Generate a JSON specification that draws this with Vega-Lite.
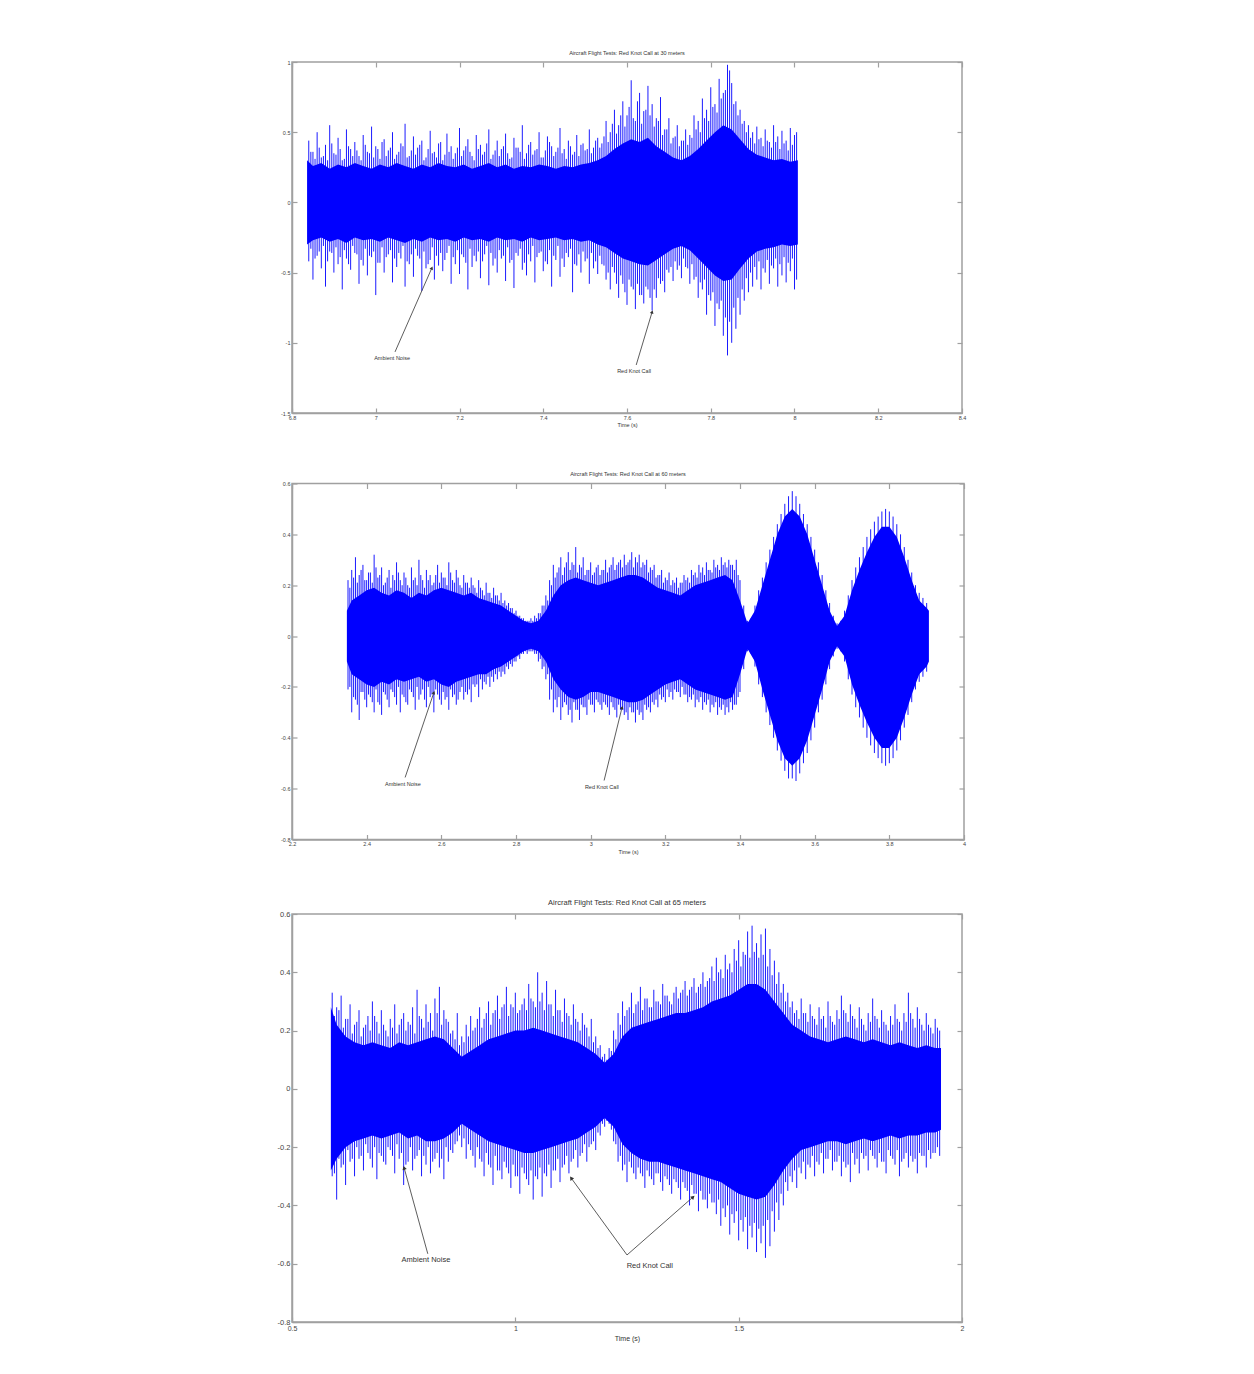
{
"$schema": "https://vega.github.io/schema/vega-lite/v6.json",
"background": "white",
"padding": {"top": 49, "left": 276, "right": 10, "bottom": 10},
"spacing": 41.5,
"config": {
  "font": "Liberation Sans",
  "view": {"stroke": "#a0a0a0", "strokeWidth": 1.5},
  "axis": {"grid": false, "domainColor": "#a0a0a0", "domainWidth": 1.5, "tickColor": "#a0a0a0", "tickWidth": 1.2, "tickSize": -5, "labelPadding": 7, "labelColor": "#444444", "labelFont": "Liberation Sans", "titleFont": "Liberation Sans", "titleFontWeight": "normal", "titleColor": "#333333", "labelFlush": false, "labelOverlap": false, "labelExpr": "datum.value < 0 ? '-' + format(-datum.value, '~g') : format(datum.value, '~g')"},
  "title": {"font": "Liberation Sans", "fontWeight": "normal", "color": "#333333", "offset": 4}
},
"datasets": {
  "c1": [
    {"t":6.836,"h":0.30,"l":-0.30},{"t":6.85,"h":0.26,"l":-0.27},{"t":6.87,"h":0.28,"l":-0.25},{"t":6.89,"h":0.24,"l":-0.28},{"t":6.91,"h":0.27,"l":-0.26},{"t":6.93,"h":0.25,"l":-0.29},{"t":6.95,"h":0.28,"l":-0.25},{"t":6.97,"h":0.26,"l":-0.27},{"t":6.99,"h":0.24,"l":-0.26},{"t":7.01,"h":0.27,"l":-0.28},{"t":7.03,"h":0.25,"l":-0.25},{"t":7.05,"h":0.28,"l":-0.27},{"t":7.07,"h":0.26,"l":-0.29},{"t":7.09,"h":0.24,"l":-0.26},{"t":7.11,"h":0.27,"l":-0.28},{"t":7.13,"h":0.25,"l":-0.25},{"t":7.15,"h":0.28,"l":-0.27},{"t":7.17,"h":0.26,"l":-0.26},{"t":7.19,"h":0.25,"l":-0.28},{"t":7.21,"h":0.27,"l":-0.25},{"t":7.23,"h":0.24,"l":-0.27},{"t":7.25,"h":0.26,"l":-0.26},{"t":7.27,"h":0.28,"l":-0.28},{"t":7.29,"h":0.25,"l":-0.25},{"t":7.31,"h":0.27,"l":-0.27},{"t":7.33,"h":0.24,"l":-0.26},{"t":7.35,"h":0.26,"l":-0.28},{"t":7.37,"h":0.25,"l":-0.25},{"t":7.39,"h":0.27,"l":-0.27},{"t":7.41,"h":0.26,"l":-0.26},{"t":7.43,"h":0.24,"l":-0.25},{"t":7.45,"h":0.26,"l":-0.27},{"t":7.47,"h":0.25,"l":-0.26},{"t":7.49,"h":0.27,"l":-0.28},{"t":7.51,"h":0.28,"l":-0.27},{"t":7.53,"h":0.30,"l":-0.30},{"t":7.55,"h":0.33,"l":-0.32},{"t":7.57,"h":0.38,"l":-0.36},{"t":7.59,"h":0.42,"l":-0.40},{"t":7.61,"h":0.45,"l":-0.42},{"t":7.63,"h":0.43,"l":-0.44},{"t":7.65,"h":0.46,"l":-0.45},{"t":7.67,"h":0.40,"l":-0.41},{"t":7.69,"h":0.36,"l":-0.37},{"t":7.71,"h":0.32,"l":-0.33},{"t":7.73,"h":0.30,"l":-0.31},{"t":7.75,"h":0.33,"l":-0.34},{"t":7.77,"h":0.38,"l":-0.40},{"t":7.79,"h":0.44,"l":-0.46},{"t":7.81,"h":0.50,"l":-0.52},{"t":7.83,"h":0.55,"l":-0.56},{"t":7.85,"h":0.52,"l":-0.55},{"t":7.87,"h":0.45,"l":-0.47},{"t":7.89,"h":0.38,"l":-0.40},{"t":7.91,"h":0.34,"l":-0.35},{"t":7.93,"h":0.32,"l":-0.33},{"t":7.95,"h":0.30,"l":-0.32},{"t":7.97,"h":0.31,"l":-0.30},{"t":7.99,"h":0.29,"l":-0.31},{"t":8.008,"h":0.30,"l":-0.30}
  ],
  "s1": [
    {"t":6.84,"h":0.44,"l":-0.42},{"t":6.85,"h":0.36,"l":-0.55},{"t":6.86,"h":0.50,"l":-0.38},{"t":6.87,"h":0.32,"l":-0.47},{"t":6.88,"h":0.41,"l":-0.60},{"t":6.89,"h":0.55,"l":-0.35},{"t":6.90,"h":0.35,"l":-0.50},{"t":6.91,"h":0.46,"l":-0.44},{"t":6.92,"h":0.30,"l":-0.62},{"t":6.93,"h":0.52,"l":-0.40},{"t":6.94,"h":0.38,"l":-0.48},{"t":6.95,"h":0.43,"l":-0.36},{"t":6.96,"h":0.33,"l":-0.58},{"t":6.97,"h":0.48,"l":-0.45},{"t":6.98,"h":0.36,"l":-0.52},{"t":6.99,"h":0.54,"l":-0.39},{"t":7.00,"h":0.40,"l":-0.66},{"t":7.01,"h":0.31,"l":-0.43},{"t":7.02,"h":0.45,"l":-0.50},{"t":7.03,"h":0.37,"l":-0.37},{"t":7.04,"h":0.50,"l":-0.57},{"t":7.05,"h":0.34,"l":-0.46},{"t":7.06,"h":0.42,"l":-0.40},{"t":7.07,"h":0.56,"l":-0.60},{"t":7.08,"h":0.33,"l":-0.44},{"t":7.09,"h":0.47,"l":-0.53},{"t":7.10,"h":0.39,"l":-0.38},{"t":7.11,"h":0.44,"l":-0.63},{"t":7.12,"h":0.32,"l":-0.47},{"t":7.13,"h":0.51,"l":-0.41},{"t":7.14,"h":0.36,"l":-0.55},{"t":7.15,"h":0.42,"l":-0.45},{"t":7.16,"h":0.30,"l":-0.49},{"t":7.17,"h":0.49,"l":-0.36},{"t":7.18,"h":0.40,"l":-0.58},{"t":7.19,"h":0.35,"l":-0.44},{"t":7.20,"h":0.53,"l":-0.51},{"t":7.21,"h":0.37,"l":-0.39},{"t":7.22,"h":0.45,"l":-0.62},{"t":7.23,"h":0.33,"l":-0.46},{"t":7.24,"h":0.48,"l":-0.42},{"t":7.25,"h":0.41,"l":-0.54},{"t":7.26,"h":0.36,"l":-0.37},{"t":7.27,"h":0.52,"l":-0.59},{"t":7.28,"h":0.34,"l":-0.45},{"t":7.29,"h":0.44,"l":-0.50},{"t":7.30,"h":0.38,"l":-0.40},{"t":7.31,"h":0.49,"l":-0.56},{"t":7.32,"h":0.31,"l":-0.43},{"t":7.33,"h":0.46,"l":-0.61},{"t":7.34,"h":0.39,"l":-0.38},{"t":7.35,"h":0.55,"l":-0.48},{"t":7.36,"h":0.35,"l":-0.52},{"t":7.37,"h":0.43,"l":-0.42},{"t":7.38,"h":0.37,"l":-0.57},{"t":7.39,"h":0.50,"l":-0.36},{"t":7.40,"h":0.32,"l":-0.49},{"t":7.41,"h":0.47,"l":-0.44},{"t":7.42,"h":0.40,"l":-0.60},{"t":7.43,"h":0.36,"l":-0.41},{"t":7.44,"h":0.53,"l":-0.53},{"t":7.45,"h":0.38,"l":-0.46},{"t":7.46,"h":0.44,"l":-0.39},{"t":7.47,"h":0.34,"l":-0.64},{"t":7.48,"h":0.48,"l":-0.45},{"t":7.49,"h":0.41,"l":-0.50},{"t":7.50,"h":0.37,"l":-0.42},{"t":7.51,"h":0.52,"l":-0.58},{"t":7.52,"h":0.39,"l":-0.47},{"t":7.53,"h":0.46,"l":-0.51},{"t":7.54,"h":0.42,"l":-0.44},{"t":7.55,"h":0.58,"l":-0.55},{"t":7.56,"h":0.50,"l":-0.62},{"t":7.57,"h":0.66,"l":-0.50},{"t":7.58,"h":0.55,"l":-0.68},{"t":7.59,"h":0.72,"l":-0.58},{"t":7.60,"h":0.62,"l":-0.73},{"t":7.61,"h":0.87,"l":-0.60},{"t":7.62,"h":0.58,"l":-0.76},{"t":7.63,"h":0.78,"l":-0.66},{"t":7.64,"h":0.65,"l":-0.72},{"t":7.65,"h":0.83,"l":-0.62},{"t":7.66,"h":0.70,"l":-0.77},{"t":7.67,"h":0.60,"l":-0.68},{"t":7.68,"h":0.75,"l":-0.58},{"t":7.69,"h":0.52,"l":-0.64},{"t":7.70,"h":0.60,"l":-0.50},{"t":7.71,"h":0.46,"l":-0.56},{"t":7.72,"h":0.55,"l":-0.48},{"t":7.73,"h":0.44,"l":-0.54},{"t":7.74,"h":0.52,"l":-0.46},{"t":7.75,"h":0.48,"l":-0.58},{"t":7.76,"h":0.62,"l":-0.55},{"t":7.77,"h":0.58,"l":-0.68},{"t":7.78,"h":0.74,"l":-0.62},{"t":7.79,"h":0.66,"l":-0.80},{"t":7.80,"h":0.82,"l":-0.70},{"t":7.81,"h":0.70,"l":-0.88},{"t":7.82,"h":0.88,"l":-0.76},{"t":7.83,"h":0.78,"l":-0.95},{"t":7.84,"h":0.98,"l":-1.09},{"t":7.845,"h":0.94,"l":-0.85},{"t":7.85,"h":0.85,"l":-1.00},{"t":7.86,"h":0.72,"l":-0.90},{"t":7.87,"h":0.66,"l":-0.80},{"t":7.88,"h":0.58,"l":-0.70},{"t":7.89,"h":0.55,"l":-0.64},{"t":7.90,"h":0.50,"l":-0.60},{"t":7.91,"h":0.54,"l":-0.55},{"t":7.92,"h":0.46,"l":-0.62},{"t":7.93,"h":0.52,"l":-0.50},{"t":7.94,"h":0.43,"l":-0.58},{"t":7.95,"h":0.55,"l":-0.47},{"t":7.96,"h":0.47,"l":-0.60},{"t":7.97,"h":0.51,"l":-0.52},{"t":7.98,"h":0.44,"l":-0.57},{"t":7.99,"h":0.53,"l":-0.49},{"t":8.00,"h":0.48,"l":-0.62},{"t":8.005,"h":0.50,"l":-0.55}
  ],
  "s1b": [
    {"t":6.845,"h":0.36,"l":-0.33},{"t":6.855,"h":0.31,"l":-0.40},{"t":6.865,"h":0.39,"l":-0.35},{"t":6.875,"h":0.33,"l":-0.31},{"t":6.885,"h":0.30,"l":-0.42},{"t":6.895,"h":0.42,"l":-0.36},{"t":6.905,"h":0.34,"l":-0.32},{"t":6.915,"h":0.38,"l":-0.39},{"t":6.925,"h":0.31,"l":-0.34},{"t":6.935,"h":0.40,"l":-0.44},{"t":6.945,"h":0.33,"l":-0.31},{"t":6.955,"h":0.37,"l":-0.37},{"t":6.965,"h":0.30,"l":-0.41},{"t":6.975,"h":0.41,"l":-0.33},{"t":6.985,"h":0.35,"l":-0.38},{"t":6.995,"h":0.32,"l":-0.35},{"t":7.005,"h":0.38,"l":-0.43},{"t":7.015,"h":0.43,"l":-0.32},{"t":7.025,"h":0.33,"l":-0.39},{"t":7.035,"h":0.39,"l":-0.34},{"t":7.045,"h":0.31,"l":-0.40},{"t":7.055,"h":0.36,"l":-0.36},{"t":7.065,"h":0.40,"l":-0.31},{"t":7.075,"h":0.32,"l":-0.42},{"t":7.085,"h":0.37,"l":-0.37},{"t":7.095,"h":0.34,"l":-0.33},{"t":7.105,"h":0.41,"l":-0.40},{"t":7.115,"h":0.30,"l":-0.35},{"t":7.125,"h":0.38,"l":-0.44},{"t":7.135,"h":0.35,"l":-0.32},{"t":7.145,"h":0.32,"l":-0.38},{"t":7.155,"h":0.43,"l":-0.36},{"t":7.165,"h":0.34,"l":-0.41},{"t":7.175,"h":0.36,"l":-0.31},{"t":7.185,"h":0.31,"l":-0.39},{"t":7.195,"h":0.39,"l":-0.34},{"t":7.205,"h":0.33,"l":-0.37},{"t":7.215,"h":0.40,"l":-0.43},{"t":7.225,"h":0.36,"l":-0.33},{"t":7.235,"h":0.30,"l":-0.38},{"t":7.245,"h":0.38,"l":-0.35},{"t":7.255,"h":0.34,"l":-0.42},{"t":7.265,"h":0.42,"l":-0.31},{"t":7.275,"h":0.31,"l":-0.36},{"t":7.285,"h":0.37,"l":-0.40},{"t":7.295,"h":0.33,"l":-0.34},{"t":7.305,"h":0.40,"l":-0.38},{"t":7.315,"h":0.35,"l":-0.32},{"t":7.325,"h":0.32,"l":-0.41},{"t":7.335,"h":0.39,"l":-0.36},{"t":7.345,"h":0.36,"l":-0.33},{"t":7.355,"h":0.31,"l":-0.43},{"t":7.365,"h":0.41,"l":-0.37},{"t":7.375,"h":0.34,"l":-0.31},{"t":7.385,"h":0.38,"l":-0.39},{"t":7.395,"h":0.32,"l":-0.35},{"t":7.405,"h":0.37,"l":-0.42},{"t":7.415,"h":0.43,"l":-0.34},{"t":7.425,"h":0.33,"l":-0.38},{"t":7.435,"h":0.39,"l":-0.31},{"t":7.445,"h":0.35,"l":-0.40},{"t":7.455,"h":0.31,"l":-0.36},{"t":7.465,"h":0.40,"l":-0.33},{"t":7.475,"h":0.36,"l":-0.44},{"t":7.485,"h":0.33,"l":-0.37},{"t":7.495,"h":0.42,"l":-0.35},{"t":7.505,"h":0.38,"l":-0.40},{"t":7.515,"h":0.35,"l":-0.36},{"t":7.525,"h":0.44,"l":-0.42},{"t":7.535,"h":0.39,"l":-0.38},{"t":7.545,"h":0.47,"l":-0.45},{"t":7.555,"h":0.43,"l":-0.50},{"t":7.565,"h":0.56,"l":-0.46},{"t":7.575,"h":0.49,"l":-0.58},{"t":7.585,"h":0.62,"l":-0.52},{"t":7.595,"h":0.54,"l":-0.64},{"t":7.605,"h":0.68,"l":-0.55},{"t":7.615,"h":0.60,"l":-0.62},{"t":7.625,"h":0.72,"l":-0.58},{"t":7.635,"h":0.56,"l":-0.66},{"t":7.645,"h":0.66,"l":-0.60},{"t":7.655,"h":0.62,"l":-0.68},{"t":7.665,"h":0.54,"l":-0.62},{"t":7.675,"h":0.58,"l":-0.54},{"t":7.685,"h":0.48,"l":-0.56},{"t":7.695,"h":0.52,"l":-0.48},{"t":7.705,"h":0.42,"l":-0.46},{"t":7.715,"h":0.47,"l":-0.42},{"t":7.725,"h":0.40,"l":-0.45},{"t":7.735,"h":0.44,"l":-0.40},{"t":7.745,"h":0.41,"l":-0.47},{"t":7.755,"h":0.46,"l":-0.44},{"t":7.765,"h":0.52,"l":-0.53},{"t":7.775,"h":0.50,"l":-0.57},{"t":7.785,"h":0.60,"l":-0.55},{"t":7.795,"h":0.58,"l":-0.66},{"t":7.805,"h":0.68,"l":-0.64},{"t":7.815,"h":0.64,"l":-0.72},{"t":7.825,"h":0.74,"l":-0.70},{"t":7.835,"h":0.80,"l":-0.82},{"t":7.855,"h":0.70,"l":-0.75},{"t":7.865,"h":0.62,"l":-0.68},{"t":7.875,"h":0.56,"l":-0.62},{"t":7.885,"h":0.50,"l":-0.54},{"t":7.895,"h":0.46,"l":-0.50},{"t":7.905,"h":0.42,"l":-0.46},{"t":7.915,"h":0.45,"l":-0.42},{"t":7.925,"h":0.40,"l":-0.47},{"t":7.935,"h":0.44,"l":-0.41},{"t":7.945,"h":0.39,"l":-0.45},{"t":7.955,"h":0.43,"l":-0.40},{"t":7.965,"h":0.38,"l":-0.44},{"t":7.975,"h":0.42,"l":-0.39},{"t":7.985,"h":0.37,"l":-0.43},{"t":7.995,"h":0.41,"l":-0.40}
  ],
  "c2": [
    {"t":2.347,"h":0.10,"l":-0.10},{"t":2.36,"h":0.14,"l":-0.15},{"t":2.38,"h":0.16,"l":-0.17},{"t":2.40,"h":0.18,"l":-0.19},{"t":2.42,"h":0.19,"l":-0.20},{"t":2.44,"h":0.17,"l":-0.18},{"t":2.46,"h":0.16,"l":-0.19},{"t":2.48,"h":0.18,"l":-0.17},{"t":2.50,"h":0.17,"l":-0.18},{"t":2.52,"h":0.15,"l":-0.17},{"t":2.54,"h":0.17,"l":-0.16},{"t":2.56,"h":0.16,"l":-0.18},{"t":2.58,"h":0.18,"l":-0.17},{"t":2.60,"h":0.19,"l":-0.19},{"t":2.62,"h":0.18,"l":-0.20},{"t":2.64,"h":0.17,"l":-0.18},{"t":2.66,"h":0.16,"l":-0.17},{"t":2.68,"h":0.17,"l":-0.16},{"t":2.70,"h":0.15,"l":-0.15},{"t":2.72,"h":0.14,"l":-0.15},{"t":2.74,"h":0.13,"l":-0.13},{"t":2.76,"h":0.12,"l":-0.12},{"t":2.78,"h":0.10,"l":-0.10},{"t":2.80,"h":0.08,"l":-0.08},{"t":2.82,"h":0.06,"l":-0.06},{"t":2.84,"h":0.05,"l":-0.05},{"t":2.86,"h":0.06,"l":-0.06},{"t":2.88,"h":0.10,"l":-0.10},{"t":2.90,"h":0.16,"l":-0.17},{"t":2.92,"h":0.20,"l":-0.21},{"t":2.94,"h":0.22,"l":-0.24},{"t":2.96,"h":0.23,"l":-0.25},{"t":2.98,"h":0.22,"l":-0.24},{"t":3.00,"h":0.21,"l":-0.22},{"t":3.02,"h":0.20,"l":-0.22},{"t":3.04,"h":0.21,"l":-0.23},{"t":3.06,"h":0.22,"l":-0.24},{"t":3.08,"h":0.23,"l":-0.25},{"t":3.10,"h":0.24,"l":-0.26},{"t":3.12,"h":0.24,"l":-0.26},{"t":3.14,"h":0.23,"l":-0.25},{"t":3.16,"h":0.21,"l":-0.23},{"t":3.18,"h":0.19,"l":-0.21},{"t":3.20,"h":0.18,"l":-0.19},{"t":3.22,"h":0.17,"l":-0.18},{"t":3.24,"h":0.16,"l":-0.17},{"t":3.26,"h":0.18,"l":-0.19},{"t":3.28,"h":0.20,"l":-0.21},{"t":3.30,"h":0.21,"l":-0.22},{"t":3.32,"h":0.22,"l":-0.23},{"t":3.34,"h":0.23,"l":-0.24},{"t":3.36,"h":0.24,"l":-0.25},{"t":3.38,"h":0.22,"l":-0.24},{"t":3.40,"h":0.14,"l":-0.15},{"t":3.42,"h":0.05,"l":-0.05},{"t":3.44,"h":0.10,"l":-0.10},{"t":3.46,"h":0.20,"l":-0.21},{"t":3.48,"h":0.30,"l":-0.31},{"t":3.50,"h":0.40,"l":-0.41},{"t":3.52,"h":0.47,"l":-0.48},{"t":3.54,"h":0.50,"l":-0.51},{"t":3.56,"h":0.47,"l":-0.48},{"t":3.58,"h":0.40,"l":-0.41},{"t":3.60,"h":0.30,"l":-0.31},{"t":3.62,"h":0.20,"l":-0.21},{"t":3.64,"h":0.10,"l":-0.10},{"t":3.66,"h":0.04,"l":-0.04},{"t":3.68,"h":0.08,"l":-0.08},{"t":3.70,"h":0.18,"l":-0.19},{"t":3.72,"h":0.26,"l":-0.27},{"t":3.74,"h":0.33,"l":-0.34},{"t":3.76,"h":0.39,"l":-0.40},{"t":3.78,"h":0.43,"l":-0.44},{"t":3.80,"h":0.43,"l":-0.44},{"t":3.82,"h":0.39,"l":-0.40},{"t":3.84,"h":0.31,"l":-0.32},{"t":3.86,"h":0.22,"l":-0.23},{"t":3.88,"h":0.14,"l":-0.15},{"t":3.90,"h":0.11,"l":-0.12},{"t":3.906,"h":0.10,"l":-0.10}
  ],
  "s2": [
    {"t":2.35,"h":0.22,"l":-0.21},{"t":2.36,"h":0.26,"l":-0.30},{"t":2.37,"h":0.31,"l":-0.25},{"t":2.38,"h":0.24,"l":-0.33},{"t":2.39,"h":0.28,"l":-0.22},{"t":2.40,"h":0.22,"l":-0.28},{"t":2.41,"h":0.25,"l":-0.24},{"t":2.42,"h":0.32,"l":-0.30},{"t":2.43,"h":0.23,"l":-0.26},{"t":2.44,"h":0.27,"l":-0.31},{"t":2.45,"h":0.21,"l":-0.23},{"t":2.46,"h":0.26,"l":-0.28},{"t":2.47,"h":0.24,"l":-0.22},{"t":2.48,"h":0.29,"l":-0.27},{"t":2.49,"h":0.22,"l":-0.30},{"t":2.50,"h":0.25,"l":-0.24},{"t":2.51,"h":0.20,"l":-0.27},{"t":2.52,"h":0.27,"l":-0.22},{"t":2.53,"h":0.23,"l":-0.29},{"t":2.54,"h":0.30,"l":-0.25},{"t":2.55,"h":0.22,"l":-0.21},{"t":2.56,"h":0.26,"l":-0.28},{"t":2.57,"h":0.24,"l":-0.24},{"t":2.58,"h":0.21,"l":-0.30},{"t":2.59,"h":0.28,"l":-0.23},{"t":2.60,"h":0.25,"l":-0.27},{"t":2.61,"h":0.23,"l":-0.25},{"t":2.62,"h":0.29,"l":-0.29},{"t":2.63,"h":0.22,"l":-0.24},{"t":2.64,"h":0.26,"l":-0.27},{"t":2.65,"h":0.20,"l":-0.22},{"t":2.66,"h":0.24,"l":-0.25},{"t":2.67,"h":0.21,"l":-0.23},{"t":2.68,"h":0.23,"l":-0.26},{"t":2.69,"h":0.19,"l":-0.20},{"t":2.70,"h":0.22,"l":-0.24},{"t":2.71,"h":0.18,"l":-0.21},{"t":2.72,"h":0.21,"l":-0.19},{"t":2.73,"h":0.17,"l":-0.20},{"t":2.74,"h":0.19,"l":-0.18},{"t":2.75,"h":0.16,"l":-0.17},{"t":2.76,"h":0.17,"l":-0.16},{"t":2.77,"h":0.14,"l":-0.15},{"t":2.78,"h":0.13,"l":-0.13},{"t":2.79,"h":0.11,"l":-0.12},{"t":2.80,"h":0.10,"l":-0.10},{"t":2.81,"h":0.08,"l":-0.09},{"t":2.82,"h":0.07,"l":-0.07},{"t":2.83,"h":0.06,"l":-0.07},{"t":2.84,"h":0.07,"l":-0.06},{"t":2.85,"h":0.08,"l":-0.07},{"t":2.86,"h":0.09,"l":-0.10},{"t":2.87,"h":0.12,"l":-0.13},{"t":2.88,"h":0.16,"l":-0.17},{"t":2.89,"h":0.22,"l":-0.25},{"t":2.90,"h":0.28,"l":-0.30},{"t":2.91,"h":0.25,"l":-0.28},{"t":2.92,"h":0.31,"l":-0.33},{"t":2.93,"h":0.27,"l":-0.26},{"t":2.94,"h":0.33,"l":-0.31},{"t":2.95,"h":0.29,"l":-0.34},{"t":2.96,"h":0.35,"l":-0.29},{"t":2.97,"h":0.28,"l":-0.33},{"t":2.98,"h":0.31,"l":-0.28},{"t":2.99,"h":0.26,"l":-0.31},{"t":3.00,"h":0.29,"l":-0.27},{"t":3.01,"h":0.25,"l":-0.30},{"t":3.02,"h":0.28,"l":-0.26},{"t":3.03,"h":0.26,"l":-0.29},{"t":3.04,"h":0.30,"l":-0.27},{"t":3.05,"h":0.27,"l":-0.31},{"t":3.06,"h":0.31,"l":-0.28},{"t":3.07,"h":0.28,"l":-0.32},{"t":3.08,"h":0.30,"l":-0.29},{"t":3.09,"h":0.32,"l":-0.31},{"t":3.10,"h":0.29,"l":-0.33},{"t":3.11,"h":0.33,"l":-0.30},{"t":3.12,"h":0.31,"l":-0.34},{"t":3.13,"h":0.32,"l":-0.31},{"t":3.14,"h":0.29,"l":-0.33},{"t":3.15,"h":0.30,"l":-0.29},{"t":3.16,"h":0.27,"l":-0.30},{"t":3.17,"h":0.28,"l":-0.27},{"t":3.18,"h":0.24,"l":-0.28},{"t":3.19,"h":0.26,"l":-0.25},{"t":3.20,"h":0.23,"l":-0.26},{"t":3.21,"h":0.25,"l":-0.24},{"t":3.22,"h":0.22,"l":-0.25},{"t":3.23,"h":0.23,"l":-0.22},{"t":3.24,"h":0.21,"l":-0.24},{"t":3.25,"h":0.24,"l":-0.23},{"t":3.26,"h":0.23,"l":-0.26},{"t":3.27,"h":0.26,"l":-0.25},{"t":3.28,"h":0.25,"l":-0.28},{"t":3.29,"h":0.28,"l":-0.26},{"t":3.30,"h":0.27,"l":-0.29},{"t":3.31,"h":0.29,"l":-0.27},{"t":3.32,"h":0.26,"l":-0.30},{"t":3.33,"h":0.30,"l":-0.28},{"t":3.34,"h":0.28,"l":-0.31},{"t":3.35,"h":0.31,"l":-0.29},{"t":3.36,"h":0.29,"l":-0.31},{"t":3.37,"h":0.30,"l":-0.30},{"t":3.38,"h":0.28,"l":-0.29},{"t":3.39,"h":0.30,"l":-0.27},{"t":3.40,"h":0.22,"l":-0.22},{"t":3.41,"h":0.12,"l":-0.13},{"t":3.42,"h":0.06,"l":-0.06},{"t":3.43,"h":0.07,"l":-0.07},{"t":3.44,"h":0.12,"l":-0.12},{"t":3.45,"h":0.18,"l":-0.19},{"t":3.46,"h":0.23,"l":-0.24},{"t":3.47,"h":0.29,"l":-0.30},{"t":3.48,"h":0.34,"l":-0.35},{"t":3.49,"h":0.39,"l":-0.40},{"t":3.50,"h":0.44,"l":-0.45},{"t":3.51,"h":0.48,"l":-0.49},{"t":3.52,"h":0.52,"l":-0.53},{"t":3.53,"h":0.55,"l":-0.56},{"t":3.54,"h":0.57,"l":-0.56},{"t":3.55,"h":0.55,"l":-0.57},{"t":3.56,"h":0.52,"l":-0.54},{"t":3.57,"h":0.48,"l":-0.50},{"t":3.58,"h":0.44,"l":-0.46},{"t":3.59,"h":0.39,"l":-0.41},{"t":3.60,"h":0.34,"l":-0.36},{"t":3.61,"h":0.29,"l":-0.30},{"t":3.62,"h":0.24,"l":-0.25},{"t":3.63,"h":0.18,"l":-0.19},{"t":3.64,"h":0.13,"l":-0.13},{"t":3.65,"h":0.08,"l":-0.08},{"t":3.66,"h":0.05,"l":-0.05},{"t":3.67,"h":0.06,"l":-0.06},{"t":3.68,"h":0.10,"l":-0.10},{"t":3.69,"h":0.16,"l":-0.17},{"t":3.70,"h":0.22,"l":-0.23},{"t":3.71,"h":0.27,"l":-0.28},{"t":3.72,"h":0.31,"l":-0.32},{"t":3.73,"h":0.35,"l":-0.36},{"t":3.74,"h":0.39,"l":-0.40},{"t":3.75,"h":0.42,"l":-0.43},{"t":3.76,"h":0.45,"l":-0.46},{"t":3.77,"h":0.47,"l":-0.48},{"t":3.78,"h":0.49,"l":-0.50},{"t":3.79,"h":0.50,"l":-0.51},{"t":3.80,"h":0.49,"l":-0.50},{"t":3.81,"h":0.47,"l":-0.48},{"t":3.82,"h":0.44,"l":-0.45},{"t":3.83,"h":0.40,"l":-0.41},{"t":3.84,"h":0.35,"l":-0.36},{"t":3.85,"h":0.30,"l":-0.31},{"t":3.86,"h":0.25,"l":-0.26},{"t":3.87,"h":0.20,"l":-0.21},{"t":3.88,"h":0.17,"l":-0.18},{"t":3.89,"h":0.15,"l":-0.16},{"t":3.90,"h":0.13,"l":-0.14}
  ],
  "s2b": [
    {"t":2.355,"h":0.19,"l":-0.20},{"t":2.365,"h":0.23,"l":-0.24},{"t":2.375,"h":0.21,"l":-0.27},{"t":2.385,"h":0.26,"l":-0.22},{"t":2.395,"h":0.22,"l":-0.25},{"t":2.405,"h":0.25,"l":-0.23},{"t":2.415,"h":0.21,"l":-0.26},{"t":2.425,"h":0.27,"l":-0.21},{"t":2.435,"h":0.24,"l":-0.27},{"t":2.445,"h":0.20,"l":-0.22},{"t":2.455,"h":0.23,"l":-0.25},{"t":2.465,"h":0.19,"l":-0.21},{"t":2.475,"h":0.22,"l":-0.24},{"t":2.485,"h":0.25,"l":-0.20},{"t":2.495,"h":0.20,"l":-0.23},{"t":2.505,"h":0.23,"l":-0.26},{"t":2.515,"h":0.19,"l":-0.21},{"t":2.525,"h":0.22,"l":-0.24},{"t":2.535,"h":0.20,"l":-0.20},{"t":2.545,"h":0.24,"l":-0.23},{"t":2.555,"h":0.19,"l":-0.25},{"t":2.565,"h":0.22,"l":-0.20},{"t":2.575,"h":0.20,"l":-0.23},{"t":2.585,"h":0.24,"l":-0.21},{"t":2.595,"h":0.21,"l":-0.25},{"t":2.605,"h":0.23,"l":-0.22},{"t":2.615,"h":0.20,"l":-0.24},{"t":2.625,"h":0.25,"l":-0.21},{"t":2.635,"h":0.21,"l":-0.23},{"t":2.645,"h":0.23,"l":-0.25},{"t":2.655,"h":0.19,"l":-0.20},{"t":2.665,"h":0.21,"l":-0.22},{"t":2.675,"h":0.19,"l":-0.21},{"t":2.685,"h":0.20,"l":-0.19},{"t":2.695,"h":0.17,"l":-0.19},{"t":2.705,"h":0.19,"l":-0.17},{"t":2.715,"h":0.16,"l":-0.18},{"t":2.725,"h":0.17,"l":-0.16},{"t":2.735,"h":0.15,"l":-0.16},{"t":2.745,"h":0.16,"l":-0.15},{"t":2.755,"h":0.14,"l":-0.14},{"t":2.765,"h":0.13,"l":-0.14},{"t":2.775,"h":0.12,"l":-0.12},{"t":2.785,"h":0.11,"l":-0.11},{"t":2.795,"h":0.09,"l":-0.10},{"t":2.805,"h":0.08,"l":-0.08},{"t":2.815,"h":0.07,"l":-0.07},{"t":2.825,"h":0.06,"l":-0.06},{"t":2.835,"h":0.06,"l":-0.06},{"t":2.845,"h":0.06,"l":-0.06},{"t":2.855,"h":0.07,"l":-0.07},{"t":2.865,"h":0.09,"l":-0.09},{"t":2.875,"h":0.12,"l":-0.12},{"t":2.885,"h":0.14,"l":-0.15},{"t":2.895,"h":0.20,"l":-0.21},{"t":2.905,"h":0.23,"l":-0.25},{"t":2.915,"h":0.27,"l":-0.24},{"t":2.925,"h":0.24,"l":-0.28},{"t":2.935,"h":0.29,"l":-0.27},{"t":2.945,"h":0.26,"l":-0.29},{"t":2.955,"h":0.28,"l":-0.26},{"t":2.965,"h":0.25,"l":-0.29},{"t":2.975,"h":0.27,"l":-0.27},{"t":2.985,"h":0.24,"l":-0.28},{"t":2.995,"h":0.26,"l":-0.25},{"t":3.005,"h":0.24,"l":-0.27},{"t":3.015,"h":0.27,"l":-0.25},{"t":3.025,"h":0.24,"l":-0.27},{"t":3.035,"h":0.26,"l":-0.26},{"t":3.045,"h":0.25,"l":-0.28},{"t":3.055,"h":0.28,"l":-0.26},{"t":3.065,"h":0.26,"l":-0.29},{"t":3.075,"h":0.29,"l":-0.27},{"t":3.085,"h":0.27,"l":-0.29},{"t":3.095,"h":0.28,"l":-0.30},{"t":3.105,"h":0.30,"l":-0.28},{"t":3.115,"h":0.27,"l":-0.30},{"t":3.125,"h":0.29,"l":-0.29},{"t":3.135,"h":0.27,"l":-0.30},{"t":3.145,"h":0.28,"l":-0.27},{"t":3.155,"h":0.25,"l":-0.28},{"t":3.165,"h":0.26,"l":-0.26},{"t":3.175,"h":0.23,"l":-0.25},{"t":3.185,"h":0.24,"l":-0.23},{"t":3.195,"h":0.21,"l":-0.24},{"t":3.205,"h":0.22,"l":-0.21},{"t":3.215,"h":0.20,"l":-0.22},{"t":3.225,"h":0.21,"l":-0.21},{"t":3.235,"h":0.19,"l":-0.22},{"t":3.245,"h":0.21,"l":-0.20},{"t":3.255,"h":0.22,"l":-0.23},{"t":3.265,"h":0.21,"l":-0.24},{"t":3.275,"h":0.24,"l":-0.23},{"t":3.285,"h":0.23,"l":-0.25},{"t":3.295,"h":0.25,"l":-0.24},{"t":3.305,"h":0.24,"l":-0.26},{"t":3.315,"h":0.26,"l":-0.25},{"t":3.325,"h":0.25,"l":-0.27},{"t":3.335,"h":0.27,"l":-0.26},{"t":3.345,"h":0.26,"l":-0.28},{"t":3.355,"h":0.28,"l":-0.27},{"t":3.365,"h":0.27,"l":-0.28},{"t":3.375,"h":0.28,"l":-0.26},{"t":3.385,"h":0.26,"l":-0.27},{"t":3.395,"h":0.24,"l":-0.24}
  ],
  "c3": [
    {"t":0.587,"h":0.28,"l":-0.28},{"t":0.60,"h":0.22,"l":-0.24},{"t":0.62,"h":0.18,"l":-0.20},{"t":0.64,"h":0.16,"l":-0.18},{"t":0.66,"h":0.15,"l":-0.17},{"t":0.68,"h":0.16,"l":-0.16},{"t":0.70,"h":0.15,"l":-0.17},{"t":0.72,"h":0.14,"l":-0.16},{"t":0.74,"h":0.16,"l":-0.15},{"t":0.76,"h":0.15,"l":-0.17},{"t":0.78,"h":0.16,"l":-0.16},{"t":0.80,"h":0.17,"l":-0.18},{"t":0.82,"h":0.18,"l":-0.18},{"t":0.84,"h":0.17,"l":-0.17},{"t":0.86,"h":0.14,"l":-0.15},{"t":0.88,"h":0.11,"l":-0.12},{"t":0.90,"h":0.13,"l":-0.14},{"t":0.92,"h":0.15,"l":-0.16},{"t":0.94,"h":0.17,"l":-0.18},{"t":0.96,"h":0.18,"l":-0.19},{"t":0.98,"h":0.19,"l":-0.20},{"t":1.00,"h":0.20,"l":-0.21},{"t":1.02,"h":0.20,"l":-0.22},{"t":1.04,"h":0.21,"l":-0.22},{"t":1.06,"h":0.20,"l":-0.21},{"t":1.08,"h":0.19,"l":-0.20},{"t":1.10,"h":0.18,"l":-0.19},{"t":1.12,"h":0.17,"l":-0.18},{"t":1.14,"h":0.16,"l":-0.17},{"t":1.16,"h":0.14,"l":-0.15},{"t":1.18,"h":0.12,"l":-0.13},{"t":1.20,"h":0.09,"l":-0.10},{"t":1.22,"h":0.12,"l":-0.13},{"t":1.24,"h":0.18,"l":-0.19},{"t":1.26,"h":0.21,"l":-0.22},{"t":1.28,"h":0.22,"l":-0.24},{"t":1.30,"h":0.23,"l":-0.25},{"t":1.32,"h":0.24,"l":-0.25},{"t":1.34,"h":0.25,"l":-0.26},{"t":1.36,"h":0.26,"l":-0.27},{"t":1.38,"h":0.26,"l":-0.28},{"t":1.40,"h":0.27,"l":-0.29},{"t":1.42,"h":0.28,"l":-0.30},{"t":1.44,"h":0.30,"l":-0.31},{"t":1.46,"h":0.31,"l":-0.32},{"t":1.48,"h":0.32,"l":-0.34},{"t":1.50,"h":0.34,"l":-0.36},{"t":1.52,"h":0.36,"l":-0.37},{"t":1.54,"h":0.36,"l":-0.38},{"t":1.56,"h":0.34,"l":-0.37},{"t":1.58,"h":0.30,"l":-0.33},{"t":1.60,"h":0.26,"l":-0.28},{"t":1.62,"h":0.22,"l":-0.24},{"t":1.64,"h":0.20,"l":-0.21},{"t":1.66,"h":0.18,"l":-0.20},{"t":1.68,"h":0.17,"l":-0.19},{"t":1.70,"h":0.16,"l":-0.18},{"t":1.72,"h":0.17,"l":-0.18},{"t":1.74,"h":0.18,"l":-0.19},{"t":1.76,"h":0.17,"l":-0.18},{"t":1.78,"h":0.16,"l":-0.17},{"t":1.80,"h":0.17,"l":-0.18},{"t":1.82,"h":0.16,"l":-0.17},{"t":1.84,"h":0.15,"l":-0.16},{"t":1.86,"h":0.16,"l":-0.17},{"t":1.88,"h":0.15,"l":-0.16},{"t":1.90,"h":0.14,"l":-0.16},{"t":1.92,"h":0.15,"l":-0.15},{"t":1.94,"h":0.14,"l":-0.15},{"t":1.953,"h":0.14,"l":-0.14}
  ],
  "s3": [
    {"t":0.59,"h":0.33,"l":-0.30},{"t":0.60,"h":0.28,"l":-0.38},{"t":0.61,"h":0.32,"l":-0.27},{"t":0.62,"h":0.24,"l":-0.33},{"t":0.63,"h":0.29,"l":-0.25},{"t":0.64,"h":0.22,"l":-0.30},{"t":0.65,"h":0.27,"l":-0.24},{"t":0.66,"h":0.21,"l":-0.28},{"t":0.67,"h":0.25,"l":-0.22},{"t":0.68,"h":0.30,"l":-0.27},{"t":0.69,"h":0.23,"l":-0.31},{"t":0.70,"h":0.27,"l":-0.23},{"t":0.71,"h":0.20,"l":-0.26},{"t":0.72,"h":0.24,"l":-0.21},{"t":0.73,"h":0.29,"l":-0.29},{"t":0.74,"h":0.22,"l":-0.24},{"t":0.75,"h":0.26,"l":-0.33},{"t":0.76,"h":0.23,"l":-0.25},{"t":0.77,"h":0.28,"l":-0.28},{"t":0.78,"h":0.34,"l":-0.23},{"t":0.79,"h":0.24,"l":-0.30},{"t":0.80,"h":0.29,"l":-0.26},{"t":0.81,"h":0.26,"l":-0.29},{"t":0.82,"h":0.31,"l":-0.24},{"t":0.83,"h":0.35,"l":-0.27},{"t":0.84,"h":0.27,"l":-0.31},{"t":0.85,"h":0.23,"l":-0.25},{"t":0.86,"h":0.20,"l":-0.22},{"t":0.87,"h":0.26,"l":-0.18},{"t":0.88,"h":0.18,"l":-0.20},{"t":0.89,"h":0.22,"l":-0.24},{"t":0.90,"h":0.25,"l":-0.21},{"t":0.91,"h":0.21,"l":-0.27},{"t":0.92,"h":0.28,"l":-0.24},{"t":0.93,"h":0.24,"l":-0.30},{"t":0.94,"h":0.30,"l":-0.26},{"t":0.95,"h":0.26,"l":-0.33},{"t":0.96,"h":0.32,"l":-0.28},{"t":0.97,"h":0.28,"l":-0.31},{"t":0.98,"h":0.35,"l":-0.27},{"t":0.99,"h":0.29,"l":-0.34},{"t":1.00,"h":0.33,"l":-0.30},{"t":1.01,"h":0.27,"l":-0.36},{"t":1.02,"h":0.31,"l":-0.29},{"t":1.03,"h":0.36,"l":-0.33},{"t":1.04,"h":0.30,"l":-0.38},{"t":1.05,"h":0.40,"l":-0.31},{"t":1.06,"h":0.33,"l":-0.37},{"t":1.07,"h":0.37,"l":-0.30},{"t":1.08,"h":0.29,"l":-0.34},{"t":1.09,"h":0.34,"l":-0.28},{"t":1.10,"h":0.27,"l":-0.32},{"t":1.11,"h":0.31,"l":-0.26},{"t":1.12,"h":0.25,"l":-0.29},{"t":1.13,"h":0.29,"l":-0.24},{"t":1.14,"h":0.23,"l":-0.27},{"t":1.15,"h":0.26,"l":-0.22},{"t":1.16,"h":0.21,"l":-0.25},{"t":1.17,"h":0.24,"l":-0.19},{"t":1.18,"h":0.18,"l":-0.21},{"t":1.19,"h":0.15,"l":-0.16},{"t":1.20,"h":0.12,"l":-0.13},{"t":1.21,"h":0.14,"l":-0.12},{"t":1.22,"h":0.20,"l":-0.18},{"t":1.23,"h":0.26,"l":-0.25},{"t":1.24,"h":0.30,"l":-0.28},{"t":1.25,"h":0.27,"l":-0.32},{"t":1.26,"h":0.33,"l":-0.27},{"t":1.27,"h":0.29,"l":-0.31},{"t":1.28,"h":0.35,"l":-0.29},{"t":1.29,"h":0.31,"l":-0.34},{"t":1.30,"h":0.28,"l":-0.30},{"t":1.31,"h":0.34,"l":-0.33},{"t":1.32,"h":0.30,"l":-0.29},{"t":1.33,"h":0.36,"l":-0.35},{"t":1.34,"h":0.32,"l":-0.31},{"t":1.35,"h":0.29,"l":-0.36},{"t":1.36,"h":0.35,"l":-0.32},{"t":1.37,"h":0.33,"l":-0.38},{"t":1.38,"h":0.37,"l":-0.34},{"t":1.39,"h":0.34,"l":-0.40},{"t":1.40,"h":0.38,"l":-0.36},{"t":1.41,"h":0.35,"l":-0.42},{"t":1.42,"h":0.40,"l":-0.38},{"t":1.43,"h":0.37,"l":-0.41},{"t":1.44,"h":0.42,"l":-0.39},{"t":1.45,"h":0.45,"l":-0.43},{"t":1.46,"h":0.41,"l":-0.47},{"t":1.47,"h":0.46,"l":-0.44},{"t":1.48,"h":0.43,"l":-0.50},{"t":1.49,"h":0.48,"l":-0.46},{"t":1.50,"h":0.51,"l":-0.52},{"t":1.51,"h":0.47,"l":-0.49},{"t":1.52,"h":0.54,"l":-0.55},{"t":1.53,"h":0.56,"l":-0.51},{"t":1.54,"h":0.50,"l":-0.56},{"t":1.55,"h":0.53,"l":-0.53},{"t":1.56,"h":0.55,"l":-0.58},{"t":1.57,"h":0.48,"l":-0.54},{"t":1.58,"h":0.44,"l":-0.49},{"t":1.59,"h":0.40,"l":-0.45},{"t":1.60,"h":0.36,"l":-0.40},{"t":1.61,"h":0.33,"l":-0.35},{"t":1.62,"h":0.30,"l":-0.32},{"t":1.63,"h":0.27,"l":-0.34},{"t":1.64,"h":0.31,"l":-0.29},{"t":1.65,"h":0.26,"l":-0.31},{"t":1.66,"h":0.29,"l":-0.27},{"t":1.67,"h":0.24,"l":-0.30},{"t":1.68,"h":0.28,"l":-0.26},{"t":1.69,"h":0.25,"l":-0.29},{"t":1.70,"h":0.30,"l":-0.24},{"t":1.71,"h":0.23,"l":-0.28},{"t":1.72,"h":0.27,"l":-0.25},{"t":1.73,"h":0.32,"l":-0.30},{"t":1.74,"h":0.26,"l":-0.27},{"t":1.75,"h":0.29,"l":-0.32},{"t":1.76,"h":0.24,"l":-0.26},{"t":1.77,"h":0.28,"l":-0.29},{"t":1.78,"h":0.22,"l":-0.24},{"t":1.79,"h":0.26,"l":-0.28},{"t":1.80,"h":0.31,"l":-0.23},{"t":1.81,"h":0.24,"l":-0.27},{"t":1.82,"h":0.27,"l":-0.25},{"t":1.83,"h":0.22,"l":-0.29},{"t":1.84,"h":0.25,"l":-0.23},{"t":1.85,"h":0.29,"l":-0.26},{"t":1.86,"h":0.23,"l":-0.30},{"t":1.87,"h":0.26,"l":-0.24},{"t":1.88,"h":0.33,"l":-0.27},{"t":1.89,"h":0.24,"l":-0.25},{"t":1.90,"h":0.28,"l":-0.29},{"t":1.91,"h":0.22,"l":-0.23},{"t":1.92,"h":0.26,"l":-0.27},{"t":1.93,"h":0.21,"l":-0.24},{"t":1.94,"h":0.24,"l":-0.22},{"t":1.95,"h":0.20,"l":-0.23}
  ],
  "s3b": [
    {"t":0.595,"h":0.25,"l":-0.29},{"t":0.605,"h":0.27,"l":-0.24},{"t":0.615,"h":0.21,"l":-0.26},{"t":0.625,"h":0.24,"l":-0.21},{"t":0.635,"h":0.19,"l":-0.24},{"t":0.645,"h":0.23,"l":-0.20},{"t":0.655,"h":0.18,"l":-0.23},{"t":0.665,"h":0.22,"l":-0.19},{"t":0.675,"h":0.20,"l":-0.24},{"t":0.685,"h":0.25,"l":-0.20},{"t":0.695,"h":0.19,"l":-0.22},{"t":0.705,"h":0.22,"l":-0.25},{"t":0.715,"h":0.18,"l":-0.20},{"t":0.725,"h":0.21,"l":-0.23},{"t":0.735,"h":0.19,"l":-0.19},{"t":0.745,"h":0.24,"l":-0.22},{"t":0.755,"h":0.20,"l":-0.26},{"t":0.765,"h":0.22,"l":-0.20},{"t":0.775,"h":0.19,"l":-0.24},{"t":0.785,"h":0.25,"l":-0.21},{"t":0.795,"h":0.21,"l":-0.23},{"t":0.805,"h":0.23,"l":-0.20},{"t":0.815,"h":0.20,"l":-0.25},{"t":0.825,"h":0.26,"l":-0.22},{"t":0.835,"h":0.22,"l":-0.24},{"t":0.845,"h":0.24,"l":-0.20},{"t":0.855,"h":0.19,"l":-0.21},{"t":0.865,"h":0.17,"l":-0.19},{"t":0.875,"h":0.15,"l":-0.16},{"t":0.885,"h":0.16,"l":-0.17},{"t":0.895,"h":0.18,"l":-0.19},{"t":0.905,"h":0.20,"l":-0.23},{"t":0.915,"h":0.24,"l":-0.20},{"t":0.925,"h":0.21,"l":-0.25},{"t":0.935,"h":0.26,"l":-0.22},{"t":0.945,"h":0.22,"l":-0.27},{"t":0.955,"h":0.27,"l":-0.23},{"t":0.965,"h":0.24,"l":-0.28},{"t":0.975,"h":0.29,"l":-0.25},{"t":0.985,"h":0.25,"l":-0.29},{"t":0.995,"h":0.28,"l":-0.26},{"t":1.005,"h":0.26,"l":-0.30},{"t":1.015,"h":0.29,"l":-0.27},{"t":1.025,"h":0.27,"l":-0.31},{"t":1.035,"h":0.31,"l":-0.28},{"t":1.045,"h":0.28,"l":-0.30},{"t":1.055,"h":0.30,"l":-0.27},{"t":1.065,"h":0.27,"l":-0.29},{"t":1.075,"h":0.29,"l":-0.26},{"t":1.085,"h":0.25,"l":-0.28},{"t":1.095,"h":0.27,"l":-0.24},{"t":1.105,"h":0.23,"l":-0.27},{"t":1.115,"h":0.26,"l":-0.23},{"t":1.125,"h":0.22,"l":-0.25},{"t":1.135,"h":0.24,"l":-0.21},{"t":1.145,"h":0.20,"l":-0.23},{"t":1.155,"h":0.22,"l":-0.19},{"t":1.165,"h":0.18,"l":-0.20},{"t":1.175,"h":0.16,"l":-0.18},{"t":1.185,"h":0.14,"l":-0.15},{"t":1.195,"h":0.11,"l":-0.12},{"t":1.205,"h":0.10,"l":-0.11},{"t":1.215,"h":0.13,"l":-0.14},{"t":1.225,"h":0.17,"l":-0.19},{"t":1.235,"h":0.22,"l":-0.23},{"t":1.245,"h":0.25,"l":-0.26},{"t":1.255,"h":0.28,"l":-0.25},{"t":1.265,"h":0.26,"l":-0.29},{"t":1.275,"h":0.30,"l":-0.27},{"t":1.285,"h":0.27,"l":-0.30},{"t":1.295,"h":0.31,"l":-0.28},{"t":1.305,"h":0.28,"l":-0.31},{"t":1.315,"h":0.30,"l":-0.29},{"t":1.325,"h":0.29,"l":-0.32},{"t":1.335,"h":0.32,"l":-0.30},{"t":1.345,"h":0.30,"l":-0.33},{"t":1.355,"h":0.33,"l":-0.31},{"t":1.365,"h":0.31,"l":-0.34},{"t":1.375,"h":0.34,"l":-0.32},{"t":1.385,"h":0.32,"l":-0.35},{"t":1.395,"h":0.35,"l":-0.33},{"t":1.405,"h":0.33,"l":-0.36},{"t":1.415,"h":0.36,"l":-0.35},{"t":1.425,"h":0.35,"l":-0.38},{"t":1.435,"h":0.38,"l":-0.36},{"t":1.445,"h":0.37,"l":-0.39},{"t":1.455,"h":0.40,"l":-0.38},{"t":1.465,"h":0.38,"l":-0.41},{"t":1.475,"h":0.41,"l":-0.40},{"t":1.485,"h":0.40,"l":-0.43},{"t":1.495,"h":0.44,"l":-0.42},{"t":1.505,"h":0.42,"l":-0.45},{"t":1.515,"h":0.46,"l":-0.44},{"t":1.525,"h":0.45,"l":-0.47},{"t":1.535,"h":0.47,"l":-0.46},{"t":1.545,"h":0.45,"l":-0.48},{"t":1.555,"h":0.46,"l":-0.47},{"t":1.565,"h":0.42,"l":-0.45},{"t":1.575,"h":0.39,"l":-0.42},{"t":1.585,"h":0.36,"l":-0.39},{"t":1.595,"h":0.33,"l":-0.36},{"t":1.605,"h":0.30,"l":-0.32},{"t":1.615,"h":0.28,"l":-0.30},{"t":1.625,"h":0.26,"l":-0.28},{"t":1.635,"h":0.24,"l":-0.27},{"t":1.645,"h":0.26,"l":-0.25},{"t":1.655,"h":0.23,"l":-0.26},{"t":1.665,"h":0.25,"l":-0.23},{"t":1.675,"h":0.22,"l":-0.25},{"t":1.685,"h":0.24,"l":-0.22},{"t":1.695,"h":0.21,"l":-0.24},{"t":1.705,"h":0.25,"l":-0.21},{"t":1.715,"h":0.22,"l":-0.25},{"t":1.725,"h":0.24,"l":-0.23},{"t":1.735,"h":0.27,"l":-0.25},{"t":1.745,"h":0.23,"l":-0.26},{"t":1.755,"h":0.25,"l":-0.22},{"t":1.765,"h":0.21,"l":-0.24},{"t":1.775,"h":0.24,"l":-0.22},{"t":1.785,"h":0.20,"l":-0.23},{"t":1.795,"h":0.23,"l":-0.21},{"t":1.805,"h":0.25,"l":-0.24},{"t":1.815,"h":0.21,"l":-0.22},{"t":1.825,"h":0.23,"l":-0.25},{"t":1.835,"h":0.20,"l":-0.21},{"t":1.845,"h":0.22,"l":-0.24},{"t":1.855,"h":0.24,"l":-0.21},{"t":1.865,"h":0.20,"l":-0.25},{"t":1.875,"h":0.23,"l":-0.22},{"t":1.885,"h":0.26,"l":-0.23},{"t":1.895,"h":0.21,"l":-0.24},{"t":1.905,"h":0.24,"l":-0.22},{"t":1.915,"h":0.20,"l":-0.23},{"t":1.925,"h":0.22,"l":-0.21},{"t":1.935,"h":0.19,"l":-0.22},{"t":1.945,"h":0.21,"l":-0.20}
  ],
  "txt": [
    {"p":1,"t":7.039,"y":-1.108,"label":"Ambient Noise"},
    {"p":1,"t":7.617,"y":-1.2,"label":"Red Knot Call"},
    {"p":2,"t":2.497,"y":-0.58,"label":"Ambient Noise"},
    {"p":2,"t":3.03,"y":-0.592,"label":"Red Knot Call"},
    {"p":3,"t":0.80,"y":-0.587,"label":"Ambient Noise"},
    {"p":3,"t":1.301,"y":-0.607,"label":"Red Knot Call"}
  ],
  "arr": [
    {"id":"a1","p":1,"t":7.046,"y":-1.065,"t2":7.134,"y2":-0.467},
    {"id":"a2","p":1,"t":7.622,"y":-1.158,"t2":7.66,"y2":-0.78},
    {"id":"a3","p":2,"t":2.503,"y":-0.556,"t2":2.58,"y2":-0.222},
    {"id":"a4","p":2,"t":3.036,"y":-0.568,"t2":3.084,"y2":-0.281},
    {"id":"a5","p":3,"t":0.804,"y":-0.566,"t2":0.751,"y2":-0.271},
    {"id":"a6","p":3,"t":1.25,"y":-0.57,"t2":1.125,"y2":-0.306},
    {"id":"a7","p":3,"t":1.25,"y":-0.57,"t2":1.398,"y2":-0.371}
  ]
},
"vconcat": [
  {
    "title": {"text": "Aircraft Flight Tests: Red Knot Call at 30 meters", "fontSize": 5.5},
    "width": 670, "height": 351,
    "resolve": {"axis": {"x": "independent", "y": "independent"}},
    "layer": [
      {"data": {"name": "c1"}, "mark": {"type": "area", "color": "#0000ff", "opacity": 1},
       "encoding": {
         "x": {"field": "t", "type": "quantitative", "scale": {"domain": [6.8, 8.4], "nice": false, "zero": false},
               "axis": {"orient": "bottom", "values": [6.8,7,7.2,7.4,7.6,7.8,8,8.2,8.4], "title": "Time (s)", "titleFontSize": 5.5, "labelFontSize": 5.5, "titlePadding": 2}},
         "y": {"field": "h", "type": "quantitative", "scale": {"domain": [-1.5, 1], "nice": false, "zero": false},
               "axis": {"orient": "left", "values": [-1.5,-1,-0.5,0,0.5,1], "title": null, "labelFontSize": 5.5}},
         "y2": {"field": "l"}}},
      {"data": {"name": "s1"}, "mark": {"type": "rule", "color": "#0000ff", "strokeWidth": 0.9},
       "encoding": {
         "x": {"field": "t", "type": "quantitative", "scale": {"domain": [6.8, 8.4], "nice": false, "zero": false},
               "axis": {"orient": "top", "values": [6.8,7,7.2,7.4,7.6,7.8,8,8.2,8.4], "labels": false, "title": null, "domain": false}},
         "y": {"field": "h", "type": "quantitative", "scale": {"domain": [-1.5, 1], "nice": false, "zero": false},
               "axis": {"orient": "right", "values": [-1.5,-1,-0.5,0,0.5,1], "labels": false, "title": null, "domain": false}},
         "y2": {"field": "l"}}},
      {"data": {"name": "s1b"}, "mark": {"type": "rule", "color": "#0000ff", "strokeWidth": 0.9},
       "encoding": {"x": {"field": "t", "type": "quantitative", "axis": null}, "y": {"field": "h", "type": "quantitative", "axis": null}, "y2": {"field": "l"}}},
      {"data": {"name": "arr"}, "transform": [{"filter": "datum.p == 1"}], "mark": {"type": "rule", "color": "#333333", "strokeWidth": 0.8},
       "encoding": {"x": {"field": "t", "type": "quantitative", "axis": null}, "y": {"field": "y", "type": "quantitative", "axis": null}, "x2": {"field": "t2"}, "y2": {"field": "y2"}}},
      {"data": {"name": "arr"}, "transform": [{"filter": "datum.id == 'a1'"}], "mark": {"type": "point", "shape": "triangle-up", "filled": true, "color": "#333333", "opacity": 1, "size": 14, "angle": 24},
       "encoding": {"x": {"field": "t2", "type": "quantitative", "axis": null}, "y": {"field": "y2", "type": "quantitative", "axis": null}}},
      {"data": {"name": "arr"}, "transform": [{"filter": "datum.id == 'a2'"}], "mark": {"type": "point", "shape": "triangle-up", "filled": true, "color": "#333333", "opacity": 1, "size": 14, "angle": 17},
       "encoding": {"x": {"field": "t2", "type": "quantitative", "axis": null}, "y": {"field": "y2", "type": "quantitative", "axis": null}}},
      {"data": {"name": "txt"}, "transform": [{"filter": "datum.p == 1"}], "mark": {"type": "text", "fontSize": 5.5, "color": "#333333", "baseline": "middle", "align": "center"},
       "encoding": {"x": {"field": "t", "type": "quantitative", "axis": null}, "y": {"field": "y", "type": "quantitative", "axis": null}, "text": {"field": "label"}}}
    ]
  },
  {
    "title": {"text": "Aircraft Flight Tests: Red Knot Call at 60 meters", "fontSize": 5.5},
    "width": 672, "height": 356,
    "resolve": {"axis": {"x": "independent", "y": "independent"}},
    "layer": [
      {"data": {"name": "c2"}, "mark": {"type": "area", "color": "#0000ff", "opacity": 1},
       "encoding": {
         "x": {"field": "t", "type": "quantitative", "scale": {"domain": [2.2, 4], "nice": false, "zero": false},
               "axis": {"orient": "bottom", "values": [2.2,2.4,2.6,2.8,3,3.2,3.4,3.6,3.8,4], "title": "Time (s)", "titleFontSize": 5.5, "labelFontSize": 5.5, "titlePadding": 2}},
         "y": {"field": "h", "type": "quantitative", "scale": {"domain": [-0.8, 0.6], "nice": false, "zero": false},
               "axis": {"orient": "left", "values": [-0.8,-0.6,-0.4,-0.2,0,0.2,0.4,0.6], "title": null, "labelFontSize": 5.5}},
         "y2": {"field": "l"}}},
      {"data": {"name": "s2"}, "mark": {"type": "rule", "color": "#0000ff", "strokeWidth": 0.9},
       "encoding": {
         "x": {"field": "t", "type": "quantitative", "scale": {"domain": [2.2, 4], "nice": false, "zero": false},
               "axis": {"orient": "top", "values": [2.2,2.4,2.6,2.8,3,3.2,3.4,3.6,3.8,4], "labels": false, "title": null, "domain": false}},
         "y": {"field": "h", "type": "quantitative", "scale": {"domain": [-0.8, 0.6], "nice": false, "zero": false},
               "axis": {"orient": "right", "values": [-0.8,-0.6,-0.4,-0.2,0,0.2,0.4,0.6], "labels": false, "title": null, "domain": false}},
         "y2": {"field": "l"}}},
      {"data": {"name": "s2b"}, "mark": {"type": "rule", "color": "#0000ff", "strokeWidth": 0.9},
       "encoding": {"x": {"field": "t", "type": "quantitative", "axis": null}, "y": {"field": "h", "type": "quantitative", "axis": null}, "y2": {"field": "l"}}},
      {"data": {"name": "arr"}, "transform": [{"filter": "datum.p == 2"}], "mark": {"type": "rule", "color": "#333333", "strokeWidth": 0.8},
       "encoding": {"x": {"field": "t", "type": "quantitative", "axis": null}, "y": {"field": "y", "type": "quantitative", "axis": null}, "x2": {"field": "t2"}, "y2": {"field": "y2"}}},
      {"data": {"name": "arr"}, "transform": [{"filter": "datum.id == 'a3'"}], "mark": {"type": "point", "shape": "triangle-up", "filled": true, "color": "#333333", "opacity": 1, "size": 14, "angle": 19},
       "encoding": {"x": {"field": "t2", "type": "quantitative", "axis": null}, "y": {"field": "y2", "type": "quantitative", "axis": null}}},
      {"data": {"name": "arr"}, "transform": [{"filter": "datum.id == 'a4'"}], "mark": {"type": "point", "shape": "triangle-up", "filled": true, "color": "#333333", "opacity": 1, "size": 14, "angle": 14},
       "encoding": {"x": {"field": "t2", "type": "quantitative", "axis": null}, "y": {"field": "y2", "type": "quantitative", "axis": null}}},
      {"data": {"name": "txt"}, "transform": [{"filter": "datum.p == 2"}], "mark": {"type": "text", "fontSize": 5.5, "color": "#333333", "baseline": "middle", "align": "center"},
       "encoding": {"x": {"field": "t", "type": "quantitative", "axis": null}, "y": {"field": "y", "type": "quantitative", "axis": null}, "text": {"field": "label"}}}
    ]
  },
  {
    "title": {"text": "Aircraft Flight Tests: Red Knot Call at 65 meters", "fontSize": 7.5},
    "width": 670, "height": 408,
    "resolve": {"axis": {"x": "independent", "y": "independent"}},
    "layer": [
      {"data": {"name": "c3"}, "mark": {"type": "area", "color": "#0000ff", "opacity": 1},
       "encoding": {
         "x": {"field": "t", "type": "quantitative", "scale": {"domain": [0.5, 2], "nice": false, "zero": false},
               "axis": {"orient": "bottom", "values": [0.5,1,1.5,2], "title": "Time (s)", "titleFontSize": 7, "labelFontSize": 7, "titlePadding": 3}},
         "y": {"field": "h", "type": "quantitative", "scale": {"domain": [-0.8, 0.6], "nice": false, "zero": false},
               "axis": {"orient": "left", "values": [-0.8,-0.6,-0.4,-0.2,0,0.2,0.4,0.6], "title": null, "labelFontSize": 7.5}},
         "y2": {"field": "l"}}},
      {"data": {"name": "s3"}, "mark": {"type": "rule", "color": "#0000ff", "strokeWidth": 0.9},
       "encoding": {
         "x": {"field": "t", "type": "quantitative", "scale": {"domain": [0.5, 2], "nice": false, "zero": false},
               "axis": {"orient": "top", "values": [0.5,1,1.5,2], "labels": false, "title": null, "domain": false}},
         "y": {"field": "h", "type": "quantitative", "scale": {"domain": [-0.8, 0.6], "nice": false, "zero": false},
               "axis": {"orient": "right", "values": [-0.8,-0.6,-0.4,-0.2,0,0.2,0.4,0.6], "labels": false, "title": null, "domain": false}},
         "y2": {"field": "l"}}},
      {"data": {"name": "s3b"}, "mark": {"type": "rule", "color": "#0000ff", "strokeWidth": 0.9},
       "encoding": {"x": {"field": "t", "type": "quantitative", "axis": null}, "y": {"field": "h", "type": "quantitative", "axis": null}, "y2": {"field": "l"}}},
      {"data": {"name": "arr"}, "transform": [{"filter": "datum.p == 3"}], "mark": {"type": "rule", "color": "#333333", "strokeWidth": 0.8},
       "encoding": {"x": {"field": "t", "type": "quantitative", "axis": null}, "y": {"field": "y", "type": "quantitative", "axis": null}, "x2": {"field": "t2"}, "y2": {"field": "y2"}}},
      {"data": {"name": "arr"}, "transform": [{"filter": "datum.id == 'a5'"}], "mark": {"type": "point", "shape": "triangle-up", "filled": true, "color": "#333333", "opacity": 1, "size": 20, "angle": 344},
       "encoding": {"x": {"field": "t2", "type": "quantitative", "axis": null}, "y": {"field": "y2", "type": "quantitative", "axis": null}}},
      {"data": {"name": "arr"}, "transform": [{"filter": "datum.id == 'a6'"}], "mark": {"type": "point", "shape": "triangle-up", "filled": true, "color": "#333333", "opacity": 1, "size": 20, "angle": 325},
       "encoding": {"x": {"field": "t2", "type": "quantitative", "axis": null}, "y": {"field": "y2", "type": "quantitative", "axis": null}}},
      {"data": {"name": "arr"}, "transform": [{"filter": "datum.id == 'a7'"}], "mark": {"type": "point", "shape": "triangle-up", "filled": true, "color": "#333333", "opacity": 1, "size": 20, "angle": 47},
       "encoding": {"x": {"field": "t2", "type": "quantitative", "axis": null}, "y": {"field": "y2", "type": "quantitative", "axis": null}}},
      {"data": {"name": "txt"}, "transform": [{"filter": "datum.p == 3"}], "mark": {"type": "text", "fontSize": 7.5, "color": "#333333", "baseline": "middle", "align": "center"},
       "encoding": {"x": {"field": "t", "type": "quantitative", "axis": null}, "y": {"field": "y", "type": "quantitative", "axis": null}, "text": {"field": "label"}}}
    ]
  }
]
}
